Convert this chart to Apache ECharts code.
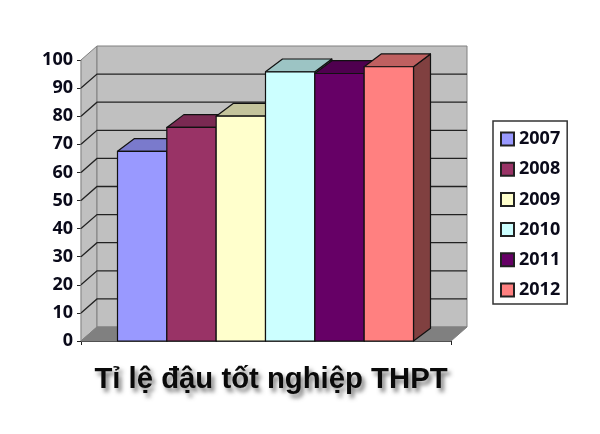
<!DOCTYPE html>
<html><head><meta charset="utf-8">
<style>html,body{margin:0;padding:0;background:#fff}#c{width:600px;height:434px}</style>
<script src="https://cdn.jsdelivr.net/npm/echarts@6/dist/echarts.min.js"></script>
</head><body><div id="c"></div>
<script>
var years = ['2007','2008','2009','2010','2011','2012'];
var values = [67.5, 76, 80, 95.8, 95.2, 97.6];
var colors = ['#9999FF','#993366','#FFFFCC','#CCFFFF','#660066','#FF8080'];
var topColors = ['#7A7ACC','#7A2952','#C4C49C','#9CC4C4','#4F004F','#BF6060'];
var sideColors = ['#4D4D80','#4D1A33','#808066','#668080','#330033','#804040'];
var ticks = [0,10,20,30,40,50,60,70,80,90,100];
var titleText = 'Tỉ lệ đậu tốt nghiệp THPT';
var WALL_DX = 16, WALL_DY = 14, BAR_DX = 17, BAR_DY = 12.8, FILL = 0.8, SHIFT = -0.5;
var FONT = '"Liberation Sans", Arial, sans-serif';
var LABEL_FONT = '"Noto Sans", Tahoma, sans-serif';

function wallItem(params, api) {
  var y0 = api.coord(['', 0]), y1 = api.coord(['', 100]);
  var band = api.size([1, 0])[0];
  var l = y0[0] - band / 2, r = y0[0] + band / 2, b = y0[1], t = y1[1];
  var wall = {fill:'#C0C0C0', stroke:'#808080', lineWidth:1};
  var kids = [
    {type:'polygon', shape:{points:[[l,t],[l+WALL_DX,t-WALL_DY],[l+WALL_DX,b-WALL_DY],[l,b]]}, style:wall},
    {type:'rect', shape:{x:l+WALL_DX,y:t-WALL_DY,width:r-l,height:b-t}, style:wall},
    {type:'polygon', shape:{points:[[l,b],[l+WALL_DX,b-WALL_DY],[r+WALL_DX,b-WALL_DY],[r,b]]}, style:{fill:'#808080', stroke:'#808080', lineWidth:1}}
  ];
  ticks.forEach(function(v){
    if (v === 0 || v === 100) return;
    var y = api.coord(['', v])[1];
    kids.push({type:'polyline', shape:{points:[[l,y],[l+WALL_DX,y-WALL_DY],[r+WALL_DX,y-WALL_DY]]}, style:{fill:null, stroke:'#222', lineWidth:1.3}});
  });
  return {type:'group', children:kids};
}
function barItem(i) {
  return function(params, api) {
    var c = api.coord(['', api.value(1)]), base = api.coord(['', 0]);
    var band = api.size([1, 0])[0], w = band * FILL / years.length;
    var x = c[0] - band * FILL / 2 + i * w + SHIFT, t = c[1], b = base[1];
    var line = {stroke:'#111', lineWidth:1.2, lineJoin:'round'};
    return {type:'group', children:[
      {type:'polygon', shape:{points:[[x+w,t],[x+w+BAR_DX,t-BAR_DY],[x+w+BAR_DX,b-BAR_DY],[x+w,b]]}, style:Object.assign({fill:sideColors[i]}, line)},
      {type:'polygon', shape:{points:[[x,t],[x+BAR_DX,t-BAR_DY],[x+w+BAR_DX,t-BAR_DY],[x+w,t]]}, style:Object.assign({fill:topColors[i]}, line)},
      {type:'rect', shape:{x:x,y:t,width:w,height:b-t}, style:Object.assign({fill:colors[i]}, line)}
    ]};
  };
}
var series = [{type:'custom', silent:true, z:1, renderItem:wallItem, encode:{x:0,y:1}, data:[['',0]], legendHoverLink:false, animation:false}];
years.forEach(function(y,i){
  series.push({name:y, type:'custom', z:2+i, renderItem:barItem(i), encode:{x:0,y:1}, data:[['',values[i]]],
    itemStyle:{color:colors[i], borderColor:'#222', borderWidth:1}, animation:false});
});
var chart = echarts.init(document.getElementById('c'), null, {renderer:'canvas'});
chart.setOption({
  animation:false, backgroundColor:'#fff',
  title:{text:titleText, left:266, top:360, textAlign:'center',
    textStyle:{fontFamily:FONT, fontWeight:'bold', fontSize:29.3, color:'#0a0a0a',
      textShadowColor:'rgba(70,70,70,0.7)', textShadowBlur:4, textShadowOffsetX:3, textShadowOffsetY:4}},
  grid:{left:81, top:60, width:370, height:281},
  legend:{orient:'vertical', left:493, top:121, padding:[9,7,5,7], itemGap:12.2, itemWidth:13, itemHeight:13,
    borderColor:'#333', borderWidth:1.5, backgroundColor:'#fff',
    icon:'rect', data:years,
    textStyle:{fontFamily:LABEL_FONT, fontWeight:'bold', fontSize:18, color:'#0a0a1a'}},
  xAxis:{type:'category', data:[''], boundaryGap:true,
    axisLine:{show:true, lineStyle:{color:'#222', width:1.2}},
    axisTick:{show:true, length:4, lineStyle:{color:'#222'}}, axisLabel:{show:false}, splitLine:{show:false}},
  yAxis:{type:'value', min:0, max:100, interval:10,
    axisLine:{show:true, lineStyle:{color:'#222', width:1.2}},
    axisTick:{show:true, length:4, lineStyle:{color:'#222'}},
    axisLabel:{fontFamily:LABEL_FONT, fontWeight:'bold', fontSize:18, color:'#0a0a1a', margin:8, padding:[3,0,0,0]},
    splitLine:{show:false}},
  series:series
});
</script></body></html>
